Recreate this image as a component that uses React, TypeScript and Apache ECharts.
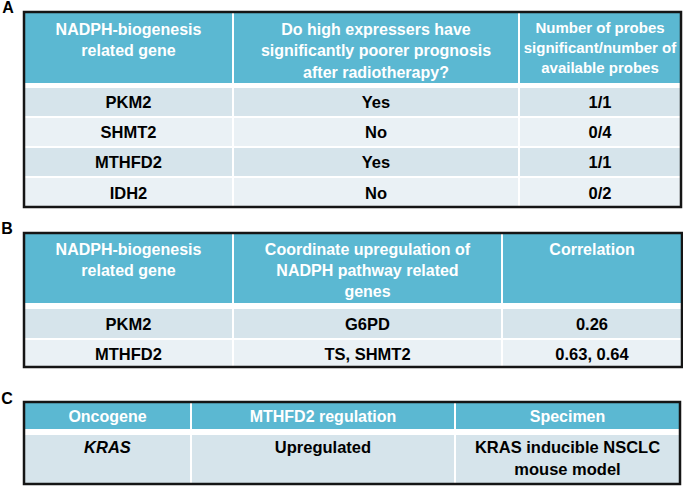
import React, { useEffect, useRef } from "react";
import * as echarts from "echarts";

// ---------- data ----------
const panelLabels = ["A", "B", "C"];

const tableAHeaders = [
  "NADPH-biogenesis\nrelated gene",
  "Do high expressers have\nsignificantly poorer prognosis\nafter radiotherapy?",
  "Number of probes\nsignificant/number of\navailable probes",
];
const tableAGenes = ["PKM2", "SHMT2", "MTHFD2", "IDH2"];
const tableAPoorPrognosis = ["Yes", "No", "Yes", "No"];
const tableAProbes = ["1/1", "0/4", "1/1", "0/2"];

const tableBHeaders = [
  "NADPH-biogenesis\nrelated gene",
  "Coordinate upregulation of\nNADPH pathway related\ngenes",
  "Correlation",
];
const tableBGenes = ["PKM2", "MTHFD2"];
const tableBCoregulated = ["G6PD", "TS, SHMT2"];
const tableBCorrelation = ["0.26", "0.63, 0.64"];

const tableCHeaders = ["Oncogene", "MTHFD2 regulation", "Specimen"];
const tableCOncogene = ["KRAS"];
const tableCRegulation = ["Upregulated"];
const tableCSpecimen = ["KRAS inducible NSCLC\nmouse model"];

// ---------- styles / layout ----------
const HEADER_BG = "#5BB8D2";
const ROW_DARK = "#D6E4EB";
const ROW_LIGHT = "#EAF1F5";
const BORDER = "#151515";
const FONT_FAMILY = "'Liberation Sans', Arial, Helvetica, sans-serif";
const BODY_SIZE = 16.5;

type TableLayout = {
  cols: number[];
  top: number;
  headerBottom: number;
  rows: [number, number][];
  bottom: number;
  headerLineY: number[];
  headerLineH: number[];
  headerSize: number[];
  bodyLineH: number;
  bodyTopAlign?: boolean;
  italicCols?: number[];
};

function buildTable(
  layout: TableLayout,
  headers: string[],
  columns: string[][]
): any[] {
  const els: any[] = [];
  const { cols, top, headerBottom, rows, bottom } = layout;
  const left = cols[0];
  const right = cols[cols.length - 1];
  els.push({
    type: "rect",
    shape: { x: left, y: top, width: right - left, height: bottom - top },
    style: { fill: "#ffffff" },
    z: 1,
  });
  for (let c = 0; c < cols.length - 1; c++) {
    const x0 = cols[c] + (c === 0 ? 0 : 1);
    const x1 = cols[c + 1] - (c === cols.length - 2 ? 0 : 1);
    els.push({
      type: "rect",
      shape: { x: x0, y: top, width: x1 - x0, height: headerBottom - top },
      style: { fill: HEADER_BG },
      z: 2,
    });
    const lines = headers[c].split("\n");
    lines.forEach((ln, i) => {
      els.push({
        type: "text",
        z: 5,
        style: {
          text: ln,
          x: (cols[c] + cols[c + 1]) / 2,
          y: layout.headerLineY[c] + i * layout.headerLineH[c],
          align: "center",
          textAlign: "center",
          verticalAlign: "middle",
          textVerticalAlign: "middle",
          fill: "#ffffff",
          font: `bold ${layout.headerSize[c]}px ${FONT_FAMILY}`,
        },
      });
    });
  }
  rows.forEach(([y0, y1], r) => {
    for (let c = 0; c < cols.length - 1; c++) {
      const x0 = cols[c] + (c === 0 ? 0 : 1);
      const x1 = cols[c + 1] - (c === cols.length - 2 ? 0 : 1);
      els.push({
        type: "rect",
        shape: { x: x0, y: y0, width: x1 - x0, height: y1 - y0 },
        style: { fill: r % 2 === 0 ? ROW_DARK : ROW_LIGHT },
        z: 2,
      });
      const lines = columns[c][r].split("\n");
      const italic = (layout.italicCols || []).includes(c);
      const startY = layout.bodyTopAlign
        ? y0 + 12
        : (y0 + y1) / 2 - ((lines.length - 1) * layout.bodyLineH) / 2;
      lines.forEach((ln, i) => {
        els.push({
          type: "text",
          z: 5,
          style: {
            text: ln,
            x: (cols[c] + cols[c + 1]) / 2,
            y: startY + i * layout.bodyLineH,
            align: "center",
            textAlign: "center",
            verticalAlign: "middle",
            textVerticalAlign: "middle",
            fill: "#000000",
            font: `${italic ? "italic " : ""}bold ${BODY_SIZE}px ${FONT_FAMILY}`,
          },
        });
      });
    }
  });
  els.push({
    type: "rect",
    shape: { x: left, y: top, width: right - left, height: bottom - top },
    style: { fill: "none", stroke: BORDER, lineWidth: 2.5 },
    z: 10,
  });
  return els;
}

const layoutA: TableLayout = {
  cols: [24, 233, 519, 681],
  top: 12,
  headerBottom: 83,
  rows: [
    [88, 116],
    [118, 146],
    [148, 176],
    [178, 207],
  ],
  bottom: 207,
  headerLineY: [29, 29, 27],
  headerLineH: [21.5, 21.5, 20],
  headerSize: [16, 16, 15],
  bodyLineH: 20,
};

const layoutB: TableLayout = {
  cols: [24, 233, 502, 682],
  top: 233,
  headerBottom: 303,
  rows: [
    [309, 338],
    [340, 367],
  ],
  bottom: 367,
  headerLineY: [249, 249, 249],
  headerLineH: [21, 21, 21],
  headerSize: [16, 16, 16],
  bodyLineH: 20,
};

const layoutC: TableLayout = {
  cols: [24, 191, 455, 680],
  top: 402,
  headerBottom: 429,
  rows: [[435, 484]],
  bottom: 484,
  headerLineY: [416, 416, 416],
  headerLineH: [20, 20, 20],
  headerSize: [16, 16, 16],
  bodyLineH: 22,
  bodyTopAlign: true,
  italicCols: [0],
};

const labelPos: [number, number][] = [
  [8, 7],
  [7, 228],
  [7, 398],
];

export default function App() {
  const ref = useRef<HTMLDivElement>(null);
  useEffect(() => {
    document.body.style.margin = "0";
    if (!ref.current) return;
    const chart = echarts.init(ref.current, null, { renderer: "svg" });
    const elements: any[] = [
      ...buildTable(layoutA, tableAHeaders, [
        tableAGenes,
        tableAPoorPrognosis,
        tableAProbes,
      ]),
      ...buildTable(layoutB, tableBHeaders, [
        tableBGenes,
        tableBCoregulated,
        tableBCorrelation,
      ]),
      ...buildTable(layoutC, tableCHeaders, [
        tableCOncogene,
        tableCRegulation,
        tableCSpecimen,
      ]),
      ...panelLabels.map((t, i) => ({
        type: "text",
        z: 5,
        style: {
          text: t,
          x: labelPos[i][0],
          y: labelPos[i][1],
          align: "center",
          textAlign: "center",
          verticalAlign: "middle",
          textVerticalAlign: "middle",
          fill: "#000000",
          font: `bold 16px ${FONT_FAMILY}`,
        },
      })),
    ];
    chart.setOption({
      animation: false,
      backgroundColor: "#ffffff",
      graphic: { elements },
    });
    return () => chart.dispose();
  }, []);
  return (
    <div
      ref={ref}
      style={{ position: "absolute", left: 0, top: 0, width: 683, height: 486 }}
    />
  );
}
